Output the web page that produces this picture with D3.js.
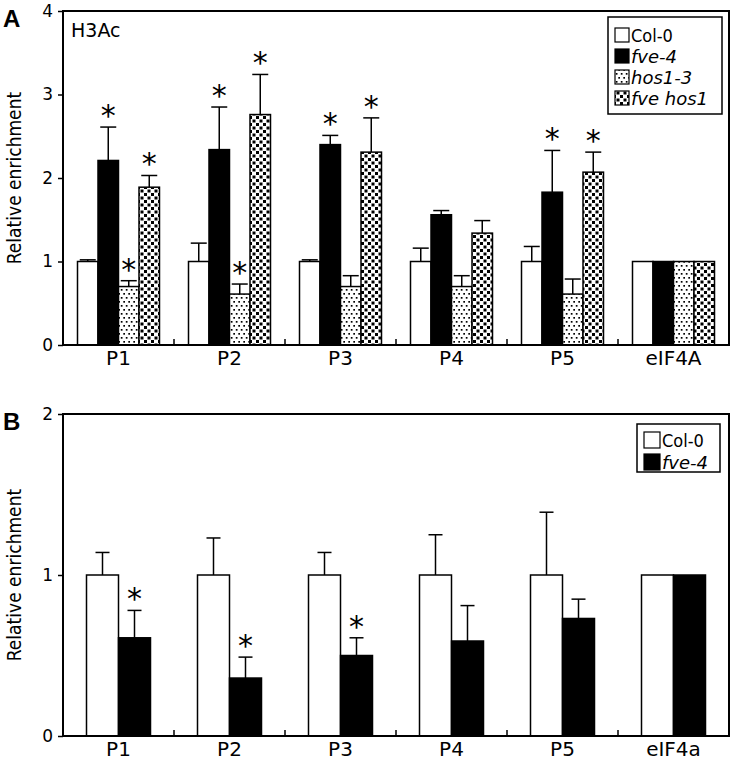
<!DOCTYPE html>
<html>
<head>
<meta charset="utf-8">
<script src="https://cdn.jsdelivr.net/npm/d3@7"></script>
<style>
  body { margin: 0; background: #fff; }
  svg text { font-family: "DejaVu Sans", sans-serif; fill: #000; }
</style>
</head>
<body>
<svg id="chart" width="734" height="765"></svg>
<script>
// ---- data ----
const groupsA = ['P1', 'P2', 'P3', 'P4', 'P5', 'eIF4A'];
const seriesA = ['Col-0', 'fve-4', 'hos1-3', 'fve hos1'];
const col0A    = [1.00, 1.00, 1.00, 1.00, 1.00, 1.00];
const col0ErrA = [0.02, 0.22, 0.02, 0.16, 0.18, 0];
const fveA     = [2.21, 2.34, 2.40, 1.56, 1.83, 1.00];
const fveErrA  = [0.40, 0.51, 0.11, 0.05, 0.50, 0];
const hosA     = [0.70, 0.61, 0.70, 0.70, 0.61, 1.00];
const hosErrA  = [0.07, 0.12, 0.13, 0.13, 0.18, 0];
const fvehosA    = [1.89, 2.76, 2.31, 1.34, 2.07, 1.00];
const fvehosErrA = [0.14, 0.48, 0.41, 0.15, 0.24, 0];
const starsA = [
  [false, true, true, true],
  [false, true, true, true],
  [false, true, false, true],
  [false, false, false, false],
  [false, true, false, true],
  [false, false, false, false]
];
const ticksA = [0, 1, 2, 3, 4];

const groupsB = ['P1', 'P2', 'P3', 'P4', 'P5', 'eIF4a'];
const seriesB = ['Col-0', 'fve-4'];
const col0B    = [1.00, 1.00, 1.00, 1.00, 1.00, 1.00];
const col0ErrB = [0.14, 0.23, 0.14, 0.25, 0.39, 0];
const fveB     = [0.61, 0.36, 0.50, 0.59, 0.73, 1.00];
const fveErrB  = [0.17, 0.13, 0.11, 0.22, 0.12, 0];
const starsB = [
  [false, true], [false, true], [false, true],
  [false, false], [false, false], [false, false]
];
const ticksB = [0, 1, 2];

const svg = d3.select('#chart');

// patterns
const defs = svg.append('defs');
const dots = defs.append('pattern').attr('id', 'dots')
  .attr('patternUnits', 'userSpaceOnUse').attr('width', 5).attr('height', 8);
dots.append('rect').attr('width', 5).attr('height', 8).attr('fill', '#fff');
dots.append('rect').attr('x', 0.8).attr('y', 1).attr('width', 1.7).attr('height', 1.7).attr('fill', '#000');
dots.append('rect').attr('x', 3.3).attr('y', 5).attr('width', 1.7).attr('height', 1.7).attr('fill', '#000');

const checks = defs.append('pattern').attr('id', 'checks')
  .attr('patternUnits', 'userSpaceOnUse').attr('width', 7).attr('height', 7);
checks.append('rect').attr('width', 7).attr('height', 7).attr('fill', '#fff');
checks.append('rect').attr('x', 0.5).attr('y', 0.5).attr('width', 3).attr('height', 3).attr('fill', '#000');
checks.append('rect').attr('x', 4).attr('y', 4).attr('width', 3).attr('height', 3).attr('fill', '#000');

const fills = {
  'Col-0': '#fff',
  'fve-4': '#000',
  'hos1-3': 'url(#dots)',
  'fve hos1': 'url(#checks)'
};

function drawPanel(opt) {
  const g = svg.append('g');
  const x = d3.scaleBand().domain(opt.groups).range([opt.left, opt.right]);
  const y = d3.scaleLinear().domain([0, opt.max]).range([opt.bottom, opt.top]);
  const inner = d3.scaleBand().domain(opt.series)
    .range([opt.inset, x.bandwidth() - opt.inset]);

  const rows = [];
  opt.groups.forEach((grp, i) => {
    opt.series.forEach((s, j) => {
      rows.push({ grp: grp, s: s, v: opt.values[j][i], e: opt.errors[j][i], star: opt.stars[i][j] });
    });
  });
  const cx = d => x(d.grp) + inner(d.s) + inner.bandwidth() / 2;

  // error bars (drawn first so bar outlines sit on top)
  const eb = rows.filter(d => d.e > 0);
  g.selectAll('.err').data(eb).enter().append('line')
    .attr('x1', cx).attr('x2', cx)
    .attr('y1', d => y(d.v)).attr('y2', d => y(d.v + d.e))
    .attr('stroke', '#000').attr('stroke-width', 1.5);
  g.selectAll('.cap').data(eb).enter().append('line')
    .attr('x1', d => cx(d) - opt.cap / 2)
    .attr('x2', d => cx(d) + opt.cap / 2)
    .attr('y1', d => y(d.v + d.e)).attr('y2', d => y(d.v + d.e))
    .attr('stroke', '#000').attr('stroke-width', 1.5);

  g.selectAll('.bar').data(rows).enter().append('rect')
    .attr('x', d => x(d.grp) + inner(d.s))
    .attr('y', d => y(d.v))
    .attr('width', inner.bandwidth())
    .attr('height', d => y(0) - y(d.v))
    .attr('fill', d => fills[d.s])
    .attr('stroke', '#000').attr('stroke-width', 1.5);

  g.selectAll('.star').data(rows.filter(d => d.star)).enter().append('text')
    .attr('x', cx)
    .attr('y', d => y(d.v + d.e) - 1)
    .attr('text-anchor', 'middle')
    .style('font-size', '30px')
    .text('*');

  // frame
  g.append('rect')
    .attr('x', opt.left).attr('y', opt.top)
    .attr('width', opt.right - opt.left).attr('height', opt.bottom - opt.top)
    .attr('fill', 'none').attr('stroke', '#000').attr('stroke-width', 2);

  // y axis
  const yAxis = g.append('g').attr('transform', `translate(${opt.left},0)`)
    .call(d3.axisLeft(y).tickValues(opt.ticks).tickSize(5).tickPadding(5).tickFormat(d3.format('d')));
  yAxis.select('.domain').remove();
  yAxis.selectAll('line').attr('stroke-width', 1.5);
  yAxis.selectAll('text').style('font-size', '17px');

  // x axis: group labels + inward ticks between groups
  const xAxis = g.append('g').attr('transform', `translate(0,${opt.bottom})`)
    .call(d3.axisBottom(x).tickSize(0).tickPadding(6));
  xAxis.select('.domain').remove();
  xAxis.selectAll('text').style('font-size', '20px');
  g.selectAll('.xt').data(opt.groups.slice(1)).enter().append('line')
    .attr('x1', d => x(d)).attr('x2', d => x(d))
    .attr('y1', opt.bottom).attr('y2', opt.bottom - 6)
    .attr('stroke', '#000').attr('stroke-width', 1.5);

  // y title
  g.append('text')
    .attr('transform', `translate(21,${(opt.top + opt.bottom) / 2}) rotate(-90)`)
    .attr('text-anchor', 'middle')
    .style('font-family', '"DejaVu Sans Condensed", "DejaVu Sans", sans-serif')
    .style('font-size', '19px')
    .text('Relative enrichment');

  // panel letter
  g.append('text')
    .attr('x', 3).attr('y', opt.top + 16)
    .style('font-family', 'Arial, "Liberation Sans", sans-serif')
    .style('font-weight', 'bold').style('font-size', '24px')
    .text(opt.letter);

  // legend
  const lg = g.append('g');
  lg.append('rect')
    .attr('x', opt.legend.x).attr('y', opt.legend.y)
    .attr('width', opt.legend.w).attr('height', opt.legend.h)
    .attr('fill', '#fff').attr('stroke', '#000').attr('stroke-width', 1.5);
  opt.series.forEach((s, j) => {
    const cy = opt.legend.y + opt.legend.first + j * opt.legend.step;
    lg.append('rect')
      .attr('x', opt.legend.x + 7).attr('y', cy - opt.legend.sw / 2)
      .attr('width', opt.legend.sw).attr('height', opt.legend.sw)
      .attr('fill', fills[s]).attr('stroke', '#000').attr('stroke-width', 1.2);
    lg.append('text')
      .attr('x', opt.legend.x + 9 + opt.legend.sw).attr('y', cy + 6.5)
      .style('font-size', '18px')
      .style('font-family', s === 'Col-0' ? '"DejaVu Sans Condensed", "DejaVu Sans", sans-serif' : null)
      .style('font-style', s === 'Col-0' ? 'normal' : 'italic')
      .text(s);
  });
  return g;
}

const pA = drawPanel({
  letter: 'A', groups: groupsA, series: seriesA,
  values: [col0A, fveA, hosA, fvehosA],
  errors: [col0ErrA, fveErrA, hosErrA, fvehosErrA],
  stars: starsA, ticks: ticksA, max: 4,
  left: 63, right: 729, top: 11, bottom: 345,
  inset: 14.5, cap: 16,
  legend: { x: 608, y: 17, w: 114, h: 97, first: 18, step: 21, sw: 14 }
});
pA.append('text').attr('x', 71).attr('y', 37).style('font-size', '19px').text('H3Ac');

drawPanel({
  letter: 'B', groups: groupsB, series: seriesB,
  values: [col0B, fveB],
  errors: [col0ErrB, fveErrB],
  stars: starsB, ticks: ticksB, max: 2,
  left: 63, right: 729, top: 414, bottom: 736,
  inset: 23.5, cap: 14,
  legend: { x: 637, y: 424, w: 83, h: 48, first: 16, step: 22, sw: 16 }
});
</script>
</body>
</html>
